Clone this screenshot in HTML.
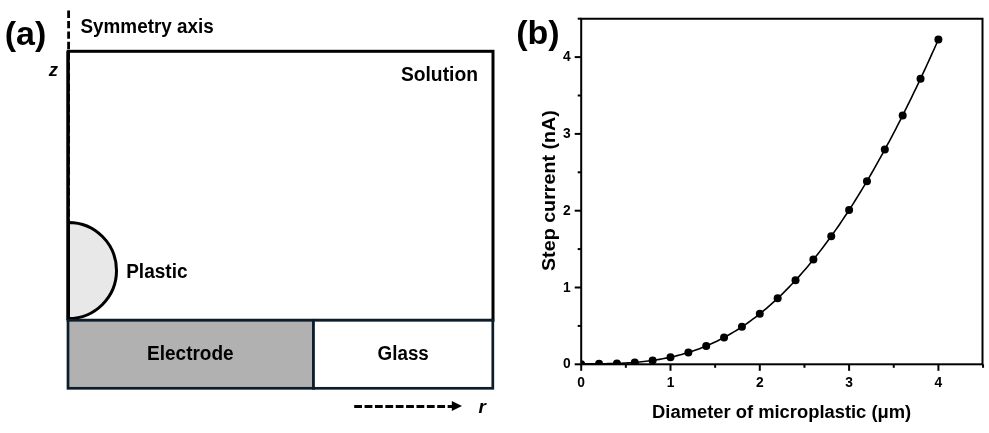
<!DOCTYPE html>
<html><head><meta charset="utf-8"><style>
html,body{margin:0;padding:0;background:#fff;}
svg{display:block;will-change:transform;}
text{font-family:"Liberation Sans",sans-serif;font-weight:bold;fill:#000;}
</style></head><body>
<svg width="989" height="433" viewBox="0 0 989 433">
<rect width="989" height="433" fill="#fff"/>

<rect x="68.2" y="51.3" width="424.8" height="269" fill="#fff" stroke="#000" stroke-width="3"/>
<path d="M68.5,222.5 A48,48 0 0 1 68.5,318.5 Z" fill="#e8e8e8" stroke="#000" stroke-width="3"/>
<line x1="67.9" y1="51.3" x2="67.9" y2="320" stroke="#000" stroke-width="3"/>
<line x1="68.6" y1="10.5" x2="68.6" y2="222" stroke="#000" stroke-width="2.8" stroke-dasharray="7.4 3.05"/>
<rect x="68" y="320.3" width="245.5" height="68" fill="#b1b1b1" stroke="#0b1d2b" stroke-width="2.7"/>
<rect x="313.5" y="320.3" width="179.3" height="68" fill="#fff" stroke="#0b1d2b" stroke-width="2.7"/>
<line x1="354.2" y1="406.5" x2="452" y2="406.5" stroke="#000" stroke-width="2.8" stroke-dasharray="7.8 2.58"/>
<path d="M451.8,401.1 L462,406 L451.8,410.9 Z" fill="#000"/>
<g stroke="#000" stroke-width="2" fill="none">
<rect x="581.2" y="18.75" width="401.30" height="345.55"/>
<line x1="581.20" y1="364.3" x2="581.20" y2="370.8"/><line x1="625.85" y1="364.3" x2="625.85" y2="367.8"/><line x1="670.50" y1="364.3" x2="670.50" y2="370.8"/><line x1="715.15" y1="364.3" x2="715.15" y2="367.8"/><line x1="759.80" y1="364.3" x2="759.80" y2="370.8"/><line x1="804.45" y1="364.3" x2="804.45" y2="367.8"/><line x1="849.10" y1="364.3" x2="849.10" y2="370.8"/><line x1="893.75" y1="364.3" x2="893.75" y2="367.8"/><line x1="938.40" y1="364.3" x2="938.40" y2="370.8"/><line x1="983.05" y1="364.3" x2="983.05" y2="367.8"/><line x1="581.2" y1="364.30" x2="574.7" y2="364.30"/><line x1="581.2" y1="325.90" x2="577.7" y2="325.90"/><line x1="581.2" y1="287.50" x2="574.7" y2="287.50"/><line x1="581.2" y1="249.10" x2="577.7" y2="249.10"/><line x1="581.2" y1="210.70" x2="574.7" y2="210.70"/><line x1="581.2" y1="172.30" x2="577.7" y2="172.30"/><line x1="581.2" y1="133.90" x2="574.7" y2="133.90"/><line x1="581.2" y1="95.50" x2="577.7" y2="95.50"/><line x1="581.2" y1="57.10" x2="574.7" y2="57.10"/><line x1="581.2" y1="18.70" x2="577.7" y2="18.70"/>
</g>
<defs><clipPath id="plot"><rect x="581.2" y="18.75" width="401.30" height="345.55"/></clipPath></defs>
<g clip-path="url(#plot)">
<path d="M581.20,363.93 L583.43,363.92 L585.67,363.90 L587.90,363.89 L590.13,363.87 L592.36,363.86 L594.60,363.84 L596.83,363.82 L599.06,363.80 L601.29,363.77 L603.53,363.73 L605.76,363.70 L607.99,363.65 L610.22,363.60 L612.46,363.54 L614.69,363.47 L616.92,363.40 L619.15,363.31 L621.38,363.21 L623.62,363.10 L625.85,362.99 L628.08,362.85 L630.32,362.71 L632.55,362.55 L634.78,362.38 L637.01,362.19 L639.25,361.99 L641.48,361.77 L643.71,361.53 L645.94,361.28 L648.18,361.01 L650.41,360.72 L652.64,360.41 L654.87,360.09 L657.11,359.74 L659.34,359.37 L661.57,358.98 L663.80,358.57 L666.04,358.14 L668.27,357.68 L670.50,357.20 L672.73,356.70 L674.97,356.17 L677.20,355.62 L679.43,355.04 L681.66,354.44 L683.90,353.81 L686.13,353.15 L688.36,352.47 L690.59,351.76 L692.83,351.02 L695.06,350.25 L697.29,349.45 L699.52,348.63 L701.76,347.77 L703.99,346.88 L706.22,345.97 L708.45,345.02 L710.69,344.04 L712.92,343.03 L715.15,341.98 L717.38,340.91 L719.62,339.80 L721.85,338.66 L724.08,337.48 L726.31,336.27 L728.55,335.03 L730.78,333.75 L733.01,332.43 L735.24,331.08 L737.48,329.70 L739.71,328.28 L741.94,326.82 L744.17,325.32 L746.41,323.79 L748.64,322.23 L750.87,320.62 L753.10,318.98 L755.34,317.30 L757.57,315.58 L759.80,313.82 L762.03,312.02 L764.27,310.19 L766.50,308.31 L768.73,306.40 L770.96,304.45 L773.20,302.45 L775.43,300.42 L777.66,298.35 L779.89,296.23 L782.12,294.08 L784.36,291.88 L786.59,289.65 L788.82,287.37 L791.06,285.05 L793.29,282.70 L795.52,280.30 L797.75,277.85 L799.99,275.37 L802.22,272.84 L804.45,270.28 L806.68,267.67 L808.92,265.02 L811.15,262.32 L813.38,259.59 L815.61,256.81 L817.85,253.99 L820.08,251.13 L822.31,248.22 L824.54,245.27 L826.78,242.28 L829.01,239.25 L831.24,236.17 L833.47,233.05 L835.71,229.89 L837.94,226.69 L840.17,223.44 L842.40,220.15 L844.63,216.82 L846.87,213.44 L849.10,210.02 L851.33,206.56 L853.57,203.06 L855.80,199.51 L858.03,195.92 L860.26,192.29 L862.50,188.62 L864.73,184.91 L866.96,181.15 L869.19,177.35 L871.42,173.51 L873.66,169.62 L875.89,165.70 L878.12,161.73 L880.36,157.72 L882.59,153.67 L884.82,149.58 L887.05,145.45 L889.29,141.27 L891.52,137.06 L893.75,132.80 L895.98,128.51 L898.22,124.17 L900.45,119.79 L902.68,115.38 L904.91,110.92 L907.14,106.42 L909.38,101.89 L911.61,97.31 L913.84,92.70 L916.08,88.05 L918.31,83.36 L920.54,78.63 L922.77,73.86 L925.01,69.06 L927.24,64.21 L929.47,59.34 L931.70,54.42 L933.94,49.47 L936.17,44.48 L938.40,39.45" fill="none" stroke="#000" stroke-width="1.6"/>
<g fill="#000"><circle cx="581.20" cy="364.30" r="4"/><circle cx="599.06" cy="363.80" r="4"/><circle cx="616.92" cy="363.40" r="4"/><circle cx="634.78" cy="362.38" r="4"/><circle cx="652.64" cy="360.41" r="4"/><circle cx="670.50" cy="357.20" r="4"/><circle cx="688.36" cy="352.47" r="4"/><circle cx="706.22" cy="345.97" r="4"/><circle cx="724.08" cy="337.48" r="4"/><circle cx="741.94" cy="326.82" r="4"/><circle cx="759.80" cy="313.82" r="4"/><circle cx="777.66" cy="298.35" r="4"/><circle cx="795.52" cy="280.30" r="4"/><circle cx="813.38" cy="259.59" r="4"/><circle cx="831.24" cy="236.17" r="4"/><circle cx="849.10" cy="210.02" r="4"/><circle cx="866.96" cy="181.15" r="4"/><circle cx="884.82" cy="149.58" r="4"/><circle cx="902.68" cy="115.38" r="4"/><circle cx="920.54" cy="78.63" r="4"/><circle cx="938.40" cy="39.45" r="4"/></g>
</g>

<text x="4.80" y="45.20" font-size="32.8" textLength="41.56" lengthAdjust="spacingAndGlyphs">(a)</text><text x="80.50" y="33.20" font-size="19.5" textLength="133.22" lengthAdjust="spacingAndGlyphs">Symmetry axis</text><text x="48.80" y="76.30" font-size="18.5" font-style="italic">z</text><text x="400.90" y="80.90" font-size="19.5" textLength="77.07" lengthAdjust="spacingAndGlyphs">Solution</text><text x="126.20" y="277.90" font-size="19.5" textLength="61.33" lengthAdjust="spacingAndGlyphs">Plastic</text><text x="147.10" y="360.30" font-size="19.5" textLength="86.53" lengthAdjust="spacingAndGlyphs">Electrode</text><text x="377.60" y="359.70" font-size="19.5" textLength="51.19" lengthAdjust="spacingAndGlyphs">Glass</text><text x="478.60" y="412.60" font-size="19.0" font-style="italic">r</text><text x="516.20" y="44.00" font-size="32.8" textLength="43.44" lengthAdjust="spacingAndGlyphs">(b)</text><text x="652.10" y="417.70" font-size="19.2" textLength="259.12" lengthAdjust="spacingAndGlyphs">Diameter of microplastic (μm)</text><text transform="rotate(-90 555.20 271.00)" x="555.20" y="271.00" font-size="18.9282352941176" textLength="160.88" lengthAdjust="spacingAndGlyphs">Step current (nA)</text><text x="581.20" y="386.5" font-size="13.8" text-anchor="middle">0</text><text x="670.50" y="386.5" font-size="13.8" text-anchor="middle">1</text><text x="759.80" y="386.5" font-size="13.8" text-anchor="middle">2</text><text x="849.10" y="386.5" font-size="13.8" text-anchor="middle">3</text><text x="938.40" y="386.5" font-size="13.8" text-anchor="middle">4</text><text x="570.6" y="368.45" font-size="13.8" text-anchor="end">0</text><text x="570.6" y="291.65" font-size="13.8" text-anchor="end">1</text><text x="570.6" y="214.85" font-size="13.8" text-anchor="end">2</text><text x="570.6" y="138.05" font-size="13.8" text-anchor="end">3</text><text x="570.6" y="61.25" font-size="13.8" text-anchor="end">4</text>
</svg>
</body></html>
